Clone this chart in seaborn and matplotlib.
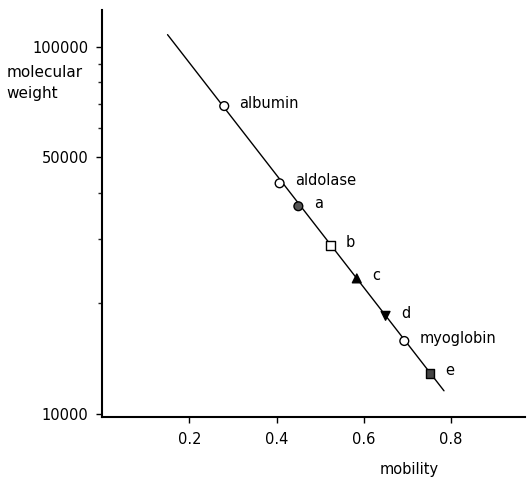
import pandas as pd
import matplotlib.pyplot as plt
import seaborn as sns
from matplotlib.ticker import FixedLocator, NullFormatter

# data
names = ['albumin', 'aldolase', 'a', 'b', 'c', 'd', 'myoglobin', 'e']
mobility = [0.28, 0.407, 0.45, 0.523, 0.584, 0.65, 0.693, 0.752]
mol_weight = [69000, 42500, 36800, 28800, 23400, 18500, 15800, 12900]
marker_shapes = ['o', 'o', 'o', 's', '^', 'v', 'o', 's']
face_colors = ['white', 'white', '#555555', 'white', 'black', 'black', 'white', '#444444']

# fitted calibration line
line_x = [0.15, 0.784]
line_y = [108000, 11560]

y_major = [10000, 50000, 100000]
y_minor = [20000, 30000, 40000, 60000, 70000, 80000, 90000]
x_major = [0.2, 0.4, 0.6, 0.8]

df = pd.DataFrame({'name': names, 'mobility': mobility, 'weight': mol_weight})
df_line = pd.DataFrame({'mobility': line_x, 'weight': line_y})

sns.set_theme(style='ticks')
plt.rcParams['font.family'] = ['DejaVu Sans']
plt.rcParams['text.color'] = 'black'

fig = plt.figure(figsize=(5.32, 4.8), dpi=100)
ax = fig.add_axes([0.192, 0.131, 0.795, 0.848])

sns.lineplot(data=df_line, x='mobility', y='weight', ax=ax, color='black', linewidth=1.0)
sns.scatterplot(
    data=df, x='mobility', y='weight', hue='name', style='name',
    markers=dict(zip(names, marker_shapes)),
    palette=dict(zip(names, face_colors)),
    edgecolor='black', linewidth=1.0, s=40, ax=ax, legend=False, zorder=3
)

for n, xv, yv in zip(names, mobility, mol_weight):
    ax.annotate(n, (xv, yv), xytext=(11, 2), textcoords='offset points',
                fontsize=10.5, va='center', ha='left', color='black')

ax.set_yscale('log')
ax.set_xlim(0, 0.97)
ax.set_ylim(9800, 126000)
ax.yaxis.set_major_locator(FixedLocator(y_major))
ax.yaxis.set_minor_locator(FixedLocator(y_minor))
ax.yaxis.set_minor_formatter(NullFormatter())
ax.set_yticklabels([str(v) for v in y_major])
ax.set_xticks(x_major)
ax.set_xticklabels([f'{v:.1f}' for v in x_major])
ax.tick_params(axis='both', which='major', length=4, width=1, labelsize=10.5, direction='out', pad=6, colors='black')
ax.tick_params(axis='y', which='minor', length=3, width=1, direction='out')
ax.tick_params(axis='x', pad=7)

sns.despine(ax=ax)
ax.spines['left'].set_linewidth(1.5)
ax.spines['bottom'].set_linewidth(1.5)
ax.spines['left'].set_color('black')
ax.spines['bottom'].set_color('black')
ax.set_xlabel('')
ax.set_ylabel('')

fig.text(0.012, 0.827, 'molecular\nweight', fontsize=11, ha='left', va='center', linespacing=1.45, color='black')
fig.text(0.714, 0.021, 'mobility', fontsize=10.5, ha='left', va='center', color='black')

plt.savefig('out.png', dpi=100)
